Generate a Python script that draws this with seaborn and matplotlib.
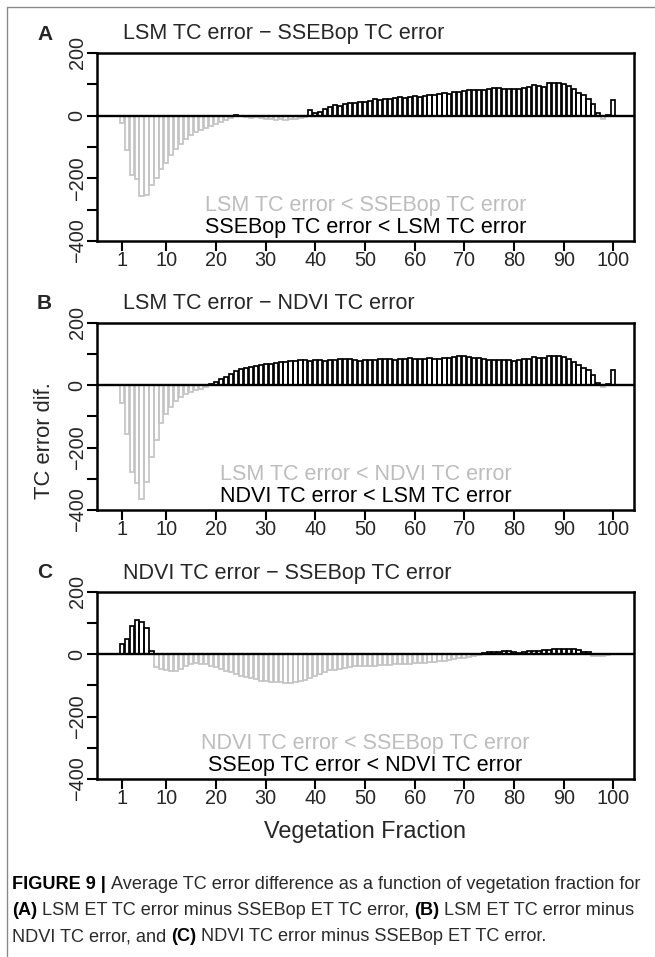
import numpy as np
import pandas as pd
import matplotlib
matplotlib.use("Agg")
import matplotlib.pyplot as plt
import seaborn as sns
from matplotlib import font_manager
from matplotlib.lines import Line2D

# ---------------- data ----------------
veg = list(range(1, 101))

lsm_minus_ssebop = [
    -24, -108, -188, -202, -256, -253, -220, -200, -170, -150,
    -125, -105, -90, -75, -62, -52, -45, -38, -32, -27,
    -20, -14, -6, 3, -2, -5, -7, -5, -8, -12,
    -12, -14, -12, -14, -12, -10, -8, -5, 18, 7,
    13, 20, 29, 35, 32, 36, 39, 41, 44, 45,
    47, 52, 50, 52, 53, 55, 58, 57, 61, 63,
    58, 63, 65, 66, 69, 71, 69, 75, 76, 80,
    82, 82, 82, 82, 84, 89, 89, 86, 86, 84,
    85, 87, 90, 99, 95, 93, 103, 105, 104, 101,
    95, 84, 73, 66, 54, 37, 7, -10, 3, 50,
]

lsm_minus_ndvi = [
    -57, -155, -278, -312, -364, -310, -230, -177, -121, -91,
    -70, -50, -37, -27, -21, -16, -11, -5, 3, 10,
    20, 28, 35, 47, 52, 55, 58, 62, 66, 68,
    70, 72, 74, 76, 78, 78, 80, 80, 78, 80,
    80, 78, 80, 82, 85, 85, 83, 80, 78, 80,
    80, 82, 83, 85, 84, 82, 84, 86, 89, 86,
    84, 85, 87, 86, 86, 87, 89, 90, 93, 93,
    91, 89, 88, 85, 82, 80, 80, 80, 80, 79,
    80, 84, 86, 91, 88, 87, 93, 94, 93, 92,
    86, 75, 64, 57, 48, 32, 8, -5, 5, 50,
]

ndvi_minus_ssebop = [
    33, 48, 90, 110, 104, 83, 11, -42, -48, -50,
    -52, -52, -46, -38, -32, -29, -30, -32, -38, -40,
    -46, -52, -58, -63, -68, -73, -77, -80, -84, -87,
    -88, -89, -90, -92, -92, -90, -87, -83, -77, -71,
    -64, -57, -51, -49, -48, -45, -40, -38, -38, -38,
    -36, -36, -35, -35, -34, -32, -31, -31, -30, -28,
    -27, -27, -26, -25, -22, -20, -18, -15, -13, -11,
    -8, -6, -3, 4, 6, 8, 9, 10, 10, 9,
    5, 9, 10, 11, 12, 14, 15, 16, 17, 17,
    17, 16, 14, 9, 6, -4, -6, -5, -2, 0,
]

panel_letters = ["A", "B", "C"]
panel_titles = [
    "LSM TC error \u2212 SSEBop TC error",
    "LSM TC error \u2212 NDVI TC error",
    "NDVI TC error \u2212 SSEBop TC error",
]
grey_notes = [
    "LSM TC error < SSEBop TC error",
    "LSM TC error < NDVI TC error",
    "NDVI TC error < SSEBop TC error",
]
black_notes = [
    "SSEBop TC error < LSM TC error",
    "NDVI TC error < LSM TC error",
    "SSEop TC error < NDVI TC error",
]
x_ticks = [1, 10, 20, 30, 40, 50, 60, 70, 80, 90, 100]
y_ticks = [-400, -300, -200, -100, 0, 100, 200]
y_labeled = [-400, -200, 0, 200]
x_label = "Vegetation Fraction"
y_label = "TC error dif."

caption_lines = [
    [("FIGURE 9 |", True), ("Average TC error difference as a function of vegetation fraction for", False)],
    [("(A)", True), ("LSM ET TC error minus SSEBop ET TC error,", False), ("(B)", True), ("LSM ET TC error minus", False)],
    [("NDVI TC error, and", False), ("(C)", True), ("NDVI TC error minus SSEBop ET TC error.", False)],
]

# ---------------- style ----------------
sns.set_theme(style="ticks")
plt.rcParams["font.family"] = ["Liberation Sans", "DejaVu Sans"]
plt.rcParams["axes.unicode_minus"] = True

W, H = 655, 957
fig = plt.figure(figsize=(W / 100, H / 100), dpi=100)
fig.patch.set_facecolor("white")


def fx(px):
    return px / W


def fy(py):
    return 1 - py / H


GREY = "#c4c4c4"
BOX_L, BOX_R = 97, 634
boxes = [(53, 241), (323, 510), (592, 779)]
title_base = [39.5, 309, 578.5]
series = [lsm_minus_ssebop, lsm_minus_ndvi, ndvi_minus_ssebop]

for i in range(3):
    top, bot = boxes[i]
    ax = fig.add_axes([fx(BOX_L), fy(bot), (BOX_R - BOX_L) / W, (bot - top) / H])
    df = pd.DataFrame({"veg": veg, "value": series[i]})
    df["sign"] = np.where(df["value"] >= 0, "pos", "neg")
    sns.barplot(
        data=df, x="veg", y="value", hue="sign",
        palette={"pos": "black", "neg": GREY},
        fill=False, native_scale=True, width=0.83, dodge=False,
        errorbar=None, legend=False, linewidth=1.25, ax=ax,
    )
    ax.axhline(0, color="black", lw=1.7, zorder=5)
    ax.set_xlim(-3.97, 104.17)
    ax.set_ylim(-400, 200)
    ax.set_xticks(x_ticks)
    ax.set_xticklabels([str(t) for t in x_ticks], fontsize=14.3)
    ax.set_yticks(y_ticks)
    ax.set_yticklabels(
        [str(v).replace("-", "\u2212") if v in y_labeled else "" for v in y_ticks],
        fontsize=14.3, rotation=90, va="center",
    )
    ax.tick_params(axis="both", direction="out", length=7, width=1.5, color="black",
                   bottom=True, left=True)
    ax.tick_params(axis="x", pad=0.5)
    ax.tick_params(axis="y", pad=0.5)
    ax.set_xlabel("")
    ax.set_ylabel("")
    for s in ax.spines.values():
        s.set_visible(True)
        s.set_linewidth(1.8)
        s.set_color("black")
    ax.set_facecolor("white")

    ax.text(0.5, 0.161, grey_notes[i], transform=ax.transAxes, ha="center",
            va="baseline", fontsize=15.5, color="#bdbdbd")
    ax.text(0.5, 0.041, black_notes[i], transform=ax.transAxes, ha="center",
            va="baseline", fontsize=15.5, color="black")

    fig.text(fx(37), fy(title_base[i]), panel_letters[i], fontsize=15,
             fontweight="bold", ha="left", va="baseline")
    fig.text(fx(123), fy(title_base[i]), panel_titles[i], fontsize=15.5,
             ha="left", va="baseline")

fig.text(fx(365.5), fy(838), x_label, fontsize=16.8, ha="center", va="baseline")
fig.text(fx(44), fy(441), y_label, fontsize=15.8, rotation=90, ha="center", va="center")

# frame lines (top and left)
fig.add_artist(Line2D([fx(7), 1.0], [fy(6.5), fy(6.5)], transform=fig.transFigure,
                      color="#8a8a8a", lw=1.0))
fig.add_artist(Line2D([fx(7), fx(7)], [fy(6.5), 0.0], transform=fig.transFigure,
                      color="#8a8a8a", lw=1.0))

# ---------------- caption ----------------
cap_family = ["Liberation Sans", "DejaVu Sans"]
try:
    font_manager.findfont(font_manager.FontProperties(family="Liberation Sans Narrow"),
                          fallback_to_default=False)
    cap_family = ["Liberation Sans Narrow", "Liberation Sans", "DejaVu Sans"]
except Exception:
    pass

renderer = fig.canvas.get_renderer()


def text_width(s, size, bold):
    t = fig.text(0, 0, s, fontsize=size, family=cap_family,
                 fontweight="bold" if bold else "normal")
    w = t.get_window_extent(renderer).width
    t.remove()
    return w


def line_width(segs, size):
    sp = text_width("x x", size, False) - text_width("xx", size, False)
    return sum(text_width(s, size, b) for s, b in segs) + sp * (len(segs) - 1)


target = 646 - 12
s0 = 12.0
cap_size = s0 * target / line_width(caption_lines[0], s0)
cap_size = min(cap_size, 14.5)
space_w = text_width("x x", cap_size, False) - text_width("xx", cap_size, False)

cap_base = [889, 915, 941]
for segs, yb in zip(caption_lines, cap_base):
    x = 12.0
    for s, b in segs:
        t = fig.text(fx(x), fy(yb), s, fontsize=cap_size, family=cap_family,
                     fontweight="bold" if b else "normal",
                     color="black" if b else "#2a2a2a", ha="left", va="baseline")
        x += t.get_window_extent(renderer).width + space_w

fig.savefig("out.png", dpi=100, facecolor="white")
